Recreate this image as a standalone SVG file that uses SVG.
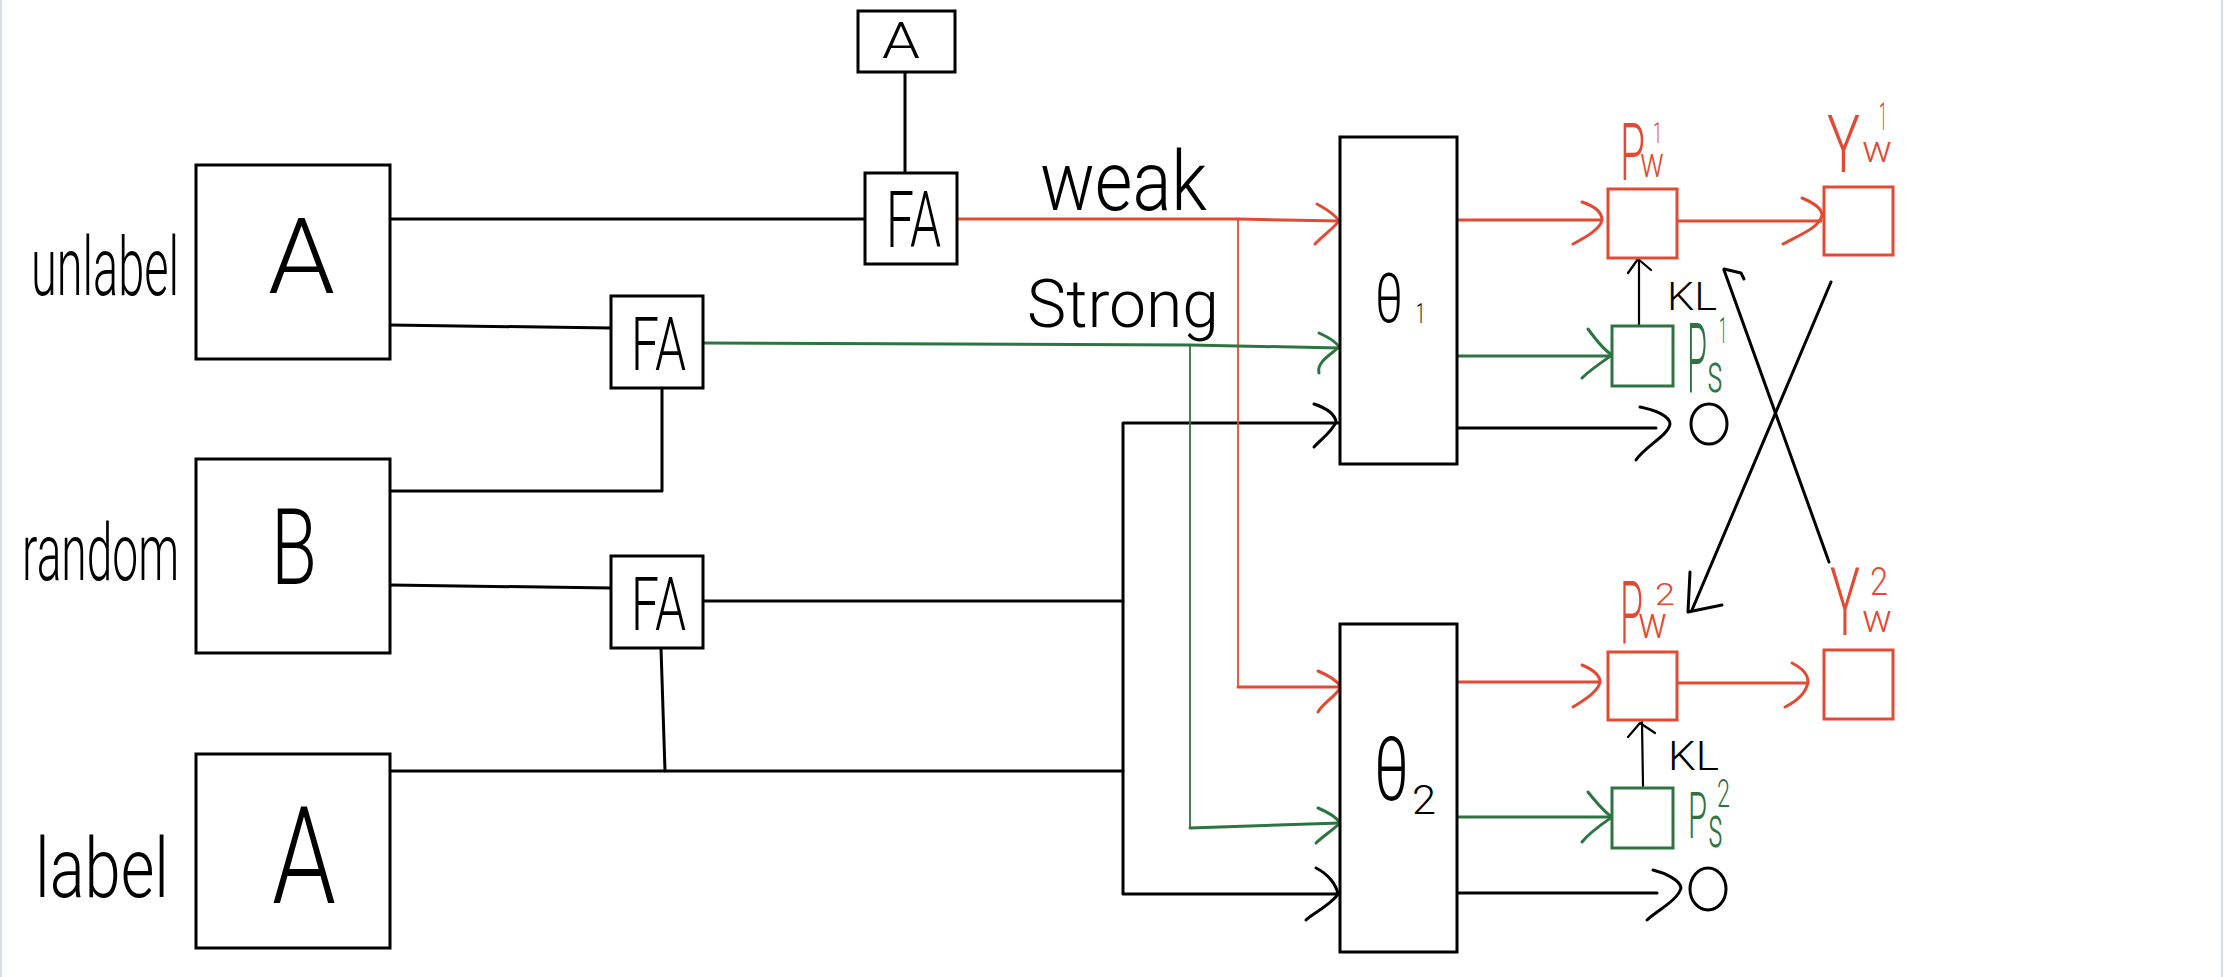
<svg xmlns="http://www.w3.org/2000/svg" width="2224" height="977" viewBox="0 0 2224 977">
<style>
.bg{fill:#ffffff}
.box{fill:#ffffff;stroke:#000;stroke-width:3}
.rbox{fill:#ffffff;stroke:#E24A33;stroke-width:3}
.gbox{fill:#ffffff;stroke:#2E7443;stroke-width:3}
.k{fill:none;stroke:#000;stroke-width:3;stroke-linecap:round;stroke-linejoin:round}
.kt{fill:none;stroke:#000;stroke-width:2.2;stroke-linecap:round;stroke-linejoin:round}
.r{fill:none;stroke:#E24A33;stroke-width:3;stroke-linecap:round;stroke-linejoin:round}
.rt{fill:none;stroke:#E24A33;stroke-width:1.8}
.g{fill:none;stroke:#2E7443;stroke-width:3;stroke-linecap:round;stroke-linejoin:round}
.gt{fill:none;stroke:#2E7443;stroke-width:1.8}
.hw{font-family:Roboto,"Open Sans","Liberation Sans",sans-serif;font-weight:300;fill:#000}
.hr{fill:#E24A33}
.hg{fill:#2E7443}
.edge{stroke:#D9DDE4;stroke-width:2}
</style>
<rect class="bg" x="0" y="0" width="2224" height="977"/>
<line class="edge" x1="1" y1="0" x2="1" y2="977"/>
<line class="edge" x1="2222" y1="0" x2="2222" y2="977"/>

<g id="connectors">
  <line class="k" x1="905" y1="72" x2="905" y2="173"/>
  <line class="k" x1="390" y1="219" x2="865" y2="219"/>
  <line class="k" x1="390" y1="325" x2="611" y2="328"/>
  <polyline class="k" points="662,388 662,491 390,491"/>
  <line class="k" x1="390" y1="585" x2="611" y2="588"/>
  <line class="k" x1="661" y1="648" x2="665" y2="771"/>
  <line class="k" x1="390" y1="771" x2="1123" y2="771"/>
  <line class="k" x1="703" y1="601" x2="1123" y2="601"/>
  <polyline class="k" points="1340,423 1123,423 1123,894 1338,894"/>
  <polyline class="r" points="957,219 1238,219 1340,221"/>
  <polyline class="rt" points="1238,219 1238,687"/>
  <line class="r" x1="1238" y1="687" x2="1340" y2="687"/>
  <polyline class="g" points="703,343 1190,345 1340,348"/>
  <polyline class="gt" points="1190,345 1190,828"/>
  <line class="g" x1="1190" y1="828" x2="1340" y2="823"/>
  <path class="r" d="M1317,204 C1328,210 1336,216 1339,221 C1334,228 1322,236 1315,244"/>
  <path class="g" d="M1319,333 C1330,338 1337,343 1339,347 C1332,354 1316,362 1319,373"/>
  <path class="k" d="M1314,404 C1326,408 1335,414 1336,422 C1332,432 1320,440 1314,447"/>
  <path class="r" d="M1318,671 C1330,676 1338,682 1341,687 C1336,696 1322,704 1318,712"/>
  <path class="g" d="M1318,808 C1330,813 1337,818 1340,823 C1333,830 1322,837 1316,843"/>
  <path class="k" d="M1316,868 C1328,874 1336,884 1338,894 C1332,904 1312,914 1306,920"/>
  <line class="r" x1="1457" y1="220" x2="1601" y2="220"/>
  <path class="r" d="M1582,202 C1594,206 1602,212 1602,220 C1600,230 1584,238 1573,244"/>
  <line class="r" x1="1677" y1="221" x2="1821" y2="221"/>
  <path class="r" d="M1802,198 C1814,203 1822,208 1822,215 C1820,228 1797,236 1783,244"/>
  <line class="g" x1="1457" y1="356" x2="1611" y2="356"/>
  <path class="g" d="M1588,329 C1596,340 1604,350 1612,355 C1602,362 1590,370 1582,378"/>
  <line class="k" x1="1457" y1="428" x2="1656" y2="428"/>
  <path class="k" d="M1640,407 C1655,410 1670,416 1670,424 C1668,436 1645,446 1636,460"/>
  <line class="r" x1="1457" y1="682" x2="1600" y2="682"/>
  <path class="r" d="M1582,665 C1594,670 1600,676 1600,682 C1598,692 1584,700 1573,707"/>
  <line class="r" x1="1677" y1="683" x2="1808" y2="683"/>
  <path class="r" d="M1792,663 C1802,668 1808,674 1808,682 C1806,694 1795,702 1785,707"/>
  <line class="g" x1="1457" y1="817" x2="1611" y2="817"/>
  <path class="g" d="M1588,792 C1596,802 1604,812 1612,817 C1602,824 1590,832 1582,842"/>
  <line class="k" x1="1457" y1="893" x2="1657" y2="893"/>
  <path class="k" d="M1653,870 C1665,873 1680,880 1681,888 C1678,900 1658,910 1647,920"/>
  <line class="kt" x1="1639" y1="325" x2="1639" y2="259"/>
  <path class="kt" d="M1628,273 L1638,259 L1651,270"/>
  <line class="kt" x1="1643" y1="786" x2="1642" y2="722"/>
  <path class="kt" d="M1628,737 L1640,723 L1655,733"/>
  <line class="k" x1="1829" y1="562" x2="1724" y2="270"/>
  <path class="k" d="M1724,269 L1741,273 L1744,279"/>
  <line class="k" x1="1831" y1="282" x2="1692" y2="610"/>
  <path class="k" d="M1690,572 L1688,612 L1722,605"/>
</g>

<g id="label-unlabel"><text class="hw" x="31" y="295" font-size="82" textLength="148" lengthAdjust="spacingAndGlyphs">unlabel</text></g>
<g id="label-random"><text class="hw" x="22" y="580" font-size="80" textLength="157" lengthAdjust="spacingAndGlyphs">random</text></g>
<g id="label-label"><text class="hw" x="35" y="897" font-size="84" textLength="134" lengthAdjust="spacingAndGlyphs">label</text></g>

<g id="node-unlabel-A"><rect class="box" x="196" y="165" width="194" height="194"/><text class="hw" x="268" y="293" font-size="106" textLength="67" lengthAdjust="spacingAndGlyphs">A</text></g>
<g id="node-random-B"><rect class="box" x="196" y="459" width="194" height="194"/><text class="hw" x="271" y="584" font-size="106" textLength="46" lengthAdjust="spacingAndGlyphs">B</text></g>
<g id="node-label-A"><rect class="box" x="196" y="754" width="194" height="194"/><text class="hw" x="272" y="903" font-size="136" textLength="64" lengthAdjust="spacingAndGlyphs">A</text></g>
<g id="node-top-A"><rect class="box" x="858" y="11" width="97" height="61"/><text class="hw" x="882" y="58" font-size="50" textLength="38" lengthAdjust="spacingAndGlyphs">A</text></g>
<g id="node-FA1"><rect class="box" x="865" y="173" width="92" height="91"/><text class="hw" x="886" y="247" font-size="77" textLength="55" lengthAdjust="spacingAndGlyphs">FA</text></g>
<g id="node-FA2"><rect class="box" x="611" y="296" width="92" height="92"/><text class="hw" x="631" y="370" font-size="74" textLength="55" lengthAdjust="spacingAndGlyphs">FA</text></g>
<g id="node-FA3"><rect class="box" x="611" y="556" width="92" height="92"/><text class="hw" x="631" y="630" font-size="74" textLength="55" lengthAdjust="spacingAndGlyphs">FA</text></g>

<g id="label-weak"><text class="hw" x="1040" y="210" font-size="84" textLength="167" lengthAdjust="spacingAndGlyphs">weak</text></g>
<g id="label-strong"><text class="hw" x="1027" y="327" font-size="66" textLength="192" lengthAdjust="spacingAndGlyphs">Strong</text></g>

<g id="node-theta1"><rect class="box" x="1340" y="137" width="117" height="327"/><text class="hw"><tspan x="1375" y="322" font-size="68" textLength="28" lengthAdjust="spacingAndGlyphs">θ</tspan><tspan x="1416" y="323" font-size="28" textLength="9" lengthAdjust="spacingAndGlyphs">1</tspan></text></g>
<g id="node-theta2"><rect class="box" x="1340" y="624" width="117" height="328"/><text class="hw"><tspan x="1374" y="800" font-size="89" textLength="35" lengthAdjust="spacingAndGlyphs">θ</tspan><tspan x="1412" y="814" font-size="40" textLength="24" lengthAdjust="spacingAndGlyphs">2</tspan></text></g>

<g id="node-Pw1"><rect class="rbox" x="1608" y="189" width="69" height="69"/><text class="hw hr"><tspan x="1620" y="180" font-size="80" textLength="25" lengthAdjust="spacingAndGlyphs">P</tspan><tspan x="1653" y="143" font-size="30" textLength="9" lengthAdjust="spacingAndGlyphs">1</tspan><tspan x="1640" y="177" font-size="42" textLength="24" lengthAdjust="spacingAndGlyphs">w</tspan></text></g>
<g id="node-Yw1"><rect class="rbox" x="1824" y="187" width="69" height="68"/><text class="hw hr"><tspan x="1827" y="172" font-size="80" textLength="33" lengthAdjust="spacingAndGlyphs">Y</tspan><tspan x="1879" y="130" font-size="38" textLength="8" lengthAdjust="spacingAndGlyphs">1</tspan><tspan x="1862" y="162" font-size="36" textLength="30" lengthAdjust="spacingAndGlyphs">w</tspan></text></g>
<g id="node-Ps1"><rect class="gbox" x="1612" y="326" width="61" height="60"/><text class="hw hg"><tspan x="1687" y="393" font-size="98" textLength="20" lengthAdjust="spacingAndGlyphs">P</tspan><tspan x="1719" y="343" font-size="36" textLength="8" lengthAdjust="spacingAndGlyphs">1</tspan><tspan x="1707" y="392" font-size="56" textLength="16" lengthAdjust="spacingAndGlyphs">s</tspan></text></g>
<g id="node-Pw2"><rect class="rbox" x="1608" y="652" width="69" height="68"/><text class="hw hr"><tspan x="1620" y="643" font-size="88" textLength="23" lengthAdjust="spacingAndGlyphs">P</tspan><tspan x="1655" y="605" font-size="32" textLength="20" lengthAdjust="spacingAndGlyphs">2</tspan><tspan x="1638" y="638" font-size="44" textLength="29" lengthAdjust="spacingAndGlyphs">w</tspan></text></g>
<g id="node-Yw2"><rect class="rbox" x="1824" y="650" width="69" height="69"/><text class="hw hr"><tspan x="1830" y="635" font-size="94" textLength="30" lengthAdjust="spacingAndGlyphs">Y</tspan><tspan x="1870" y="595" font-size="39" textLength="18" lengthAdjust="spacingAndGlyphs">2</tspan><tspan x="1862" y="632" font-size="38" textLength="30" lengthAdjust="spacingAndGlyphs">w</tspan></text></g>
<g id="node-Ps2"><rect class="gbox" x="1612" y="788" width="61" height="60"/><text class="hw hg"><tspan x="1688" y="838" font-size="64" textLength="19" lengthAdjust="spacingAndGlyphs">P</tspan><tspan x="1717" y="807" font-size="38" textLength="13" lengthAdjust="spacingAndGlyphs">2</tspan><tspan x="1708" y="847" font-size="60" textLength="15" lengthAdjust="spacingAndGlyphs">s</tspan></text></g>

<g id="label-KL1"><text class="hw" x="1667" y="310" font-size="38" textLength="50" lengthAdjust="spacingAndGlyphs">KL</text></g>
<g id="label-KL2"><text class="hw" x="1668" y="770" font-size="40" textLength="51" lengthAdjust="spacingAndGlyphs">KL</text></g>

<g id="node-O1"><ellipse class="k" cx="1709" cy="424" rx="18" ry="20"/></g>
<g id="node-O2"><ellipse class="k" cx="1708" cy="889" rx="18" ry="21"/></g>
</svg>
